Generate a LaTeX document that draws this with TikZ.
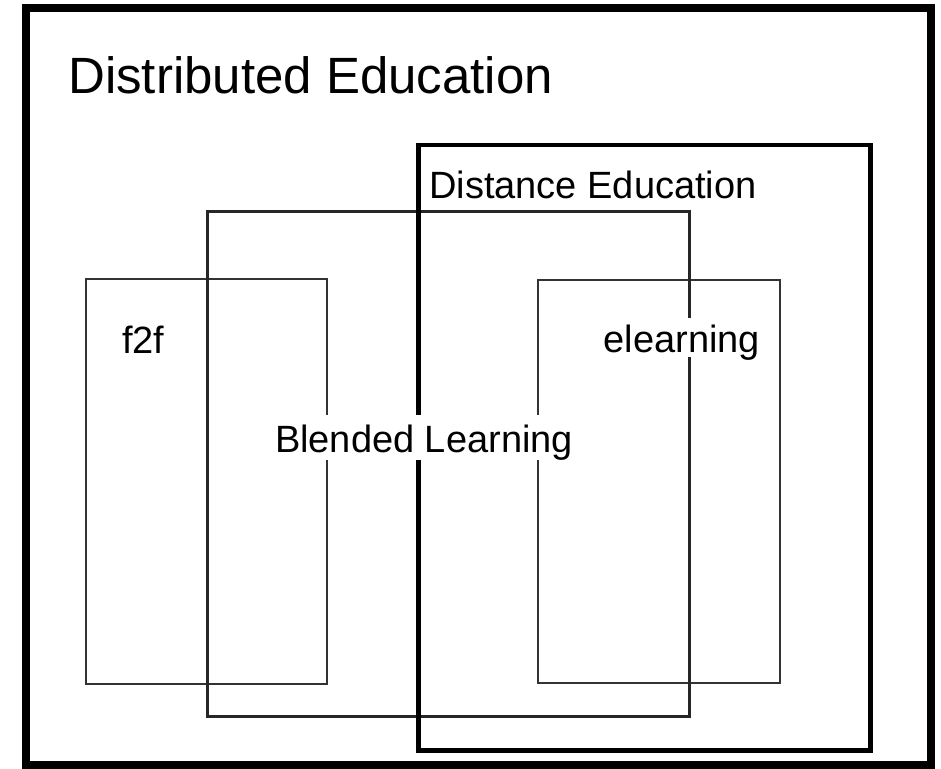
\documentclass[tikz,border=0pt]{standalone}
\usepackage{fontspec}
\setmainfont{Liberation Sans}
\begin{document}
\begin{tikzpicture}[x=1pt,y=-1pt,
  outerbox/.style={draw=black,line width=8pt},
  distbox/.style={draw=black,line width=4.5pt},
  blendbox/.style={draw=black!85,line width=3pt},
  thinbox/.style={draw=black!80,line width=2pt},
  lbl/.style={inner sep=0pt,font=\fontsize{38}{44}\selectfont,fill=white},
  title/.style={inner sep=0pt,font=\fontsize{51}{60}\selectfont}]
\useasboundingbox (0,0) rectangle (941,768);
% rectangles
\draw[outerbox] (26,8.5) rectangle (931,765);
\draw[thinbox] (86,278.5) rectangle (326.5,683.5);
\draw[thinbox] (538,279.5) rectangle (780,683);
\draw[blendbox] (207.5,211.5) rectangle (689,716.5);
\draw[distbox] (418.5,145) rectangle (870.5,750.5);
% labels
\node[title,anchor=base west] (distributed) at (68,93) {Distributed Education};
\node[lbl,anchor=base west,fill=none] (distance) at (429,198) {Distance Education};
\node[lbl,anchor=base west,fill=none] (f2f) at (122,353) {f2f};
\node[lbl,anchor=base west,text height=34pt,text depth=5pt] (elearning) at (603.5,352) {elearning};
\node[lbl,anchor=base,text height=37pt,text depth=8pt] (blended) at (424,452) {Blended Learning};
\end{tikzpicture}
\end{document}
